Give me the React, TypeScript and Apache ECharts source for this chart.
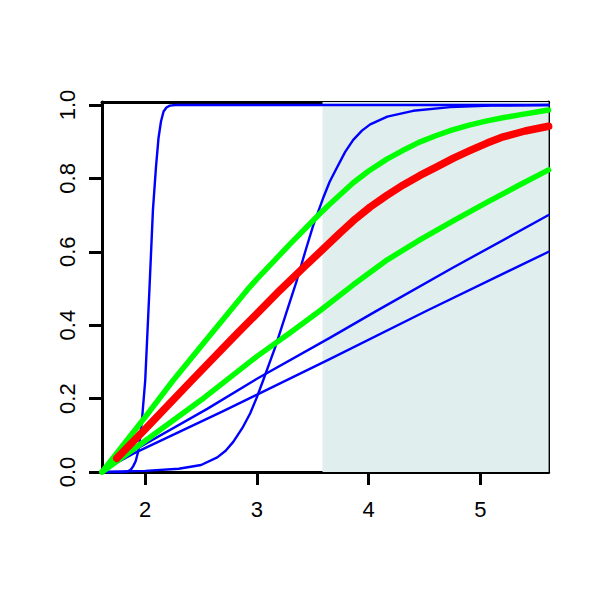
import React, { useEffect, useRef } from "react";
import * as echarts from "echarts";

const X_MIN = 1.613;
const X_MAX = 5.611;
const Y_MIN = 0;
const Y_MAX = 1.008;
const SHADE_FROM = 3.587;

const xTicks = [2, 3, 4, 5];
const yTicks = [0, 0.2, 0.4, 0.6, 0.8, 1.0];

// thin blue sample curves
const blueSteep = [
  [1.613, 0], [1.8, 0], [1.848, 0.002], [1.872, 0.007], [1.893, 0.016], [1.915, 0.03],
  [1.937, 0.056], [1.955, 0.095], [1.973, 0.15], [2.0, 0.25], [2.038, 0.5], [2.069, 0.714],
  [2.096, 0.83], [2.119, 0.91], [2.141, 0.955], [2.164, 0.982], [2.19, 0.993], [2.22, 0.998],
  [2.269, 1.0], [5.611, 1.0],
];
const blueSigmoid = [
  [1.613, 0], [2.0, 0.003], [2.3, 0.009], [2.5, 0.019], [2.645, 0.04], [2.72, 0.058],
  [2.788, 0.082], [2.87, 0.12], [2.94, 0.16], [3.0, 0.204], [3.056, 0.25], [3.164, 0.34],
  [3.262, 0.433], [3.358, 0.523], [3.432, 0.6], [3.504, 0.672], [3.591, 0.745],
  [3.65, 0.79], [3.719, 0.831], [3.79, 0.872], [3.862, 0.905], [3.94, 0.93], [4.014, 0.947],
  [4.167, 0.968], [4.399, 0.984], [4.731, 0.994], [5.1, 0.998], [5.611, 1.0],
];
const blueUpperLinear = [
  [1.613, 0], [1.75, 0.03], [1.893, 0.058], [2.555, 0.172], [3.0, 0.254], [3.656, 0.366],
  [4.059, 0.437], [4.757, 0.557], [5.611, 0.7],
];
const blueLowerLinear = [
  [1.613, 0], [1.75, 0.026], [1.893, 0.05], [2.698, 0.166], [3.656, 0.308], [4.525, 0.44],
  [5.611, 0.6],
];

// green band
const greenUpper = [
  [1.613, 0], [2.0, 0.15], [2.251, 0.25], [2.492, 0.34], [2.913, 0.496], [3.003, 0.527],
  [3.3, 0.622], [3.567, 0.705], [3.656, 0.731], [3.862, 0.788], [4.0, 0.82], [4.167, 0.853],
  [4.3, 0.875], [4.45, 0.898], [4.6, 0.916], [4.75, 0.932], [4.9, 0.945], [5.05, 0.956],
  [5.2, 0.965], [5.35, 0.973], [5.611, 0.986],
];
const greenLower = [
  [1.613, 0], [2.0, 0.085], [2.5, 0.196], [3.0, 0.315], [3.3, 0.38], [3.567, 0.44],
  [3.862, 0.51], [4.167, 0.578], [4.462, 0.633], [4.757, 0.684], [5.062, 0.735],
  [5.35, 0.782], [5.611, 0.823],
];

// red estimate
const redMain = [
  [1.745, 0.037], [2.0, 0.117], [2.418, 0.25], [2.8, 0.37], [3.209, 0.496], [3.4, 0.552],
  [3.567, 0.6], [3.746, 0.652], [3.88, 0.689], [4.014, 0.722], [4.16, 0.753], [4.31, 0.782],
  [4.46, 0.808], [4.614, 0.832], [4.76, 0.855], [4.91, 0.876], [5.06, 0.896],
  [5.205, 0.913], [5.4, 0.929], [5.611, 0.942],
];

const FONT = "'Liberation Sans', Arial, Helvetica, sans-serif";

function lineSeries(data: number[][], color: string, width: number, extra: any = {}) {
  return {
    type: "line",
    data,
    showSymbol: false,
    symbol: "none",
    smooth: false,
    silent: true,
    clip: false,
    lineStyle: { color, width, cap: "round", join: "round" },
    z: 2,
    ...extra,
  };
}

export default function App() {
  const ref = useRef<HTMLDivElement>(null);
  useEffect(() => {
    if (!ref.current) return;
    document.body.style.margin = "0";
    const chart = echarts.init(ref.current, null, { renderer: "svg" });
    const axisLine = { show: true, onZero: false, lineStyle: { color: "#000", width: 3 } };
    chart.setOption({
      animation: false,
      backgroundColor: "#fff",
      grid: { left: 102, right: 51.4, top: 102, bottom: 128, containLabel: false, outerBoundsMode: "none" },
      xAxis: [
        {
          type: "value",
          min: X_MIN,
          max: X_MAX,
          position: "bottom",
          axisLine,
          splitLine: { show: false },
          axisTick: { show: true, length: 13, inside: false, customValues: xTicks, lineStyle: { color: "#000", width: 3 } },
          axisLabel: {
            customValues: xTicks,
            color: "#000",
            fontSize: 22,
            fontFamily: FONT,
            margin: 26,
            formatter: (v: number) => String(v),
          },
        },
        {
          type: "value",
          min: X_MIN,
          max: X_MAX,
          position: "top",
          axisLine,
          splitLine: { show: false },
          axisTick: { show: false },
          axisLabel: { show: false },
        },
      ],
      yAxis: [
        {
          type: "value",
          min: Y_MIN,
          max: Y_MAX,
          position: "left",
          axisLine,
          splitLine: { show: false },
          axisTick: { show: true, length: 13, inside: false, customValues: yTicks, lineStyle: { color: "#000", width: 3 } },
          axisLabel: {
            customValues: yTicks,
            rotate: 90,
            color: "#000",
            fontSize: 22,
            fontFamily: FONT,
            margin: 24,
            formatter: (v: number) => v.toFixed(1),
          },
        },
        {
          type: "value",
          min: Y_MIN,
          max: Y_MAX,
          position: "right",
          axisLine,
          splitLine: { show: false },
          axisTick: { show: false },
          axisLabel: { show: false },
        },
      ],
      series: [
        lineSeries(blueSteep, "#0000FF", 2.4, {
          markArea: {
            silent: true,
            label: { show: false },
            itemStyle: { color: "#E0EEEE", borderWidth: 0 },
            data: [[{ coord: [SHADE_FROM, Y_MIN] }, { coord: [X_MAX, Y_MAX] }]],
          },
        }),
        lineSeries(blueSigmoid, "#0000FF", 2.4),
        lineSeries(blueUpperLinear, "#0000FF", 2.4),
        lineSeries(blueLowerLinear, "#0000FF", 2.4),
        lineSeries(greenUpper, "#00FF00", 5.5),
        lineSeries(greenLower, "#00FF00", 5.5),
        lineSeries(redMain, "#FF0000", 7.5),
      ],
    });
    return () => chart.dispose();
  }, []);
  return <div ref={ref} style={{ width: 600, height: 600 }} />;
}
